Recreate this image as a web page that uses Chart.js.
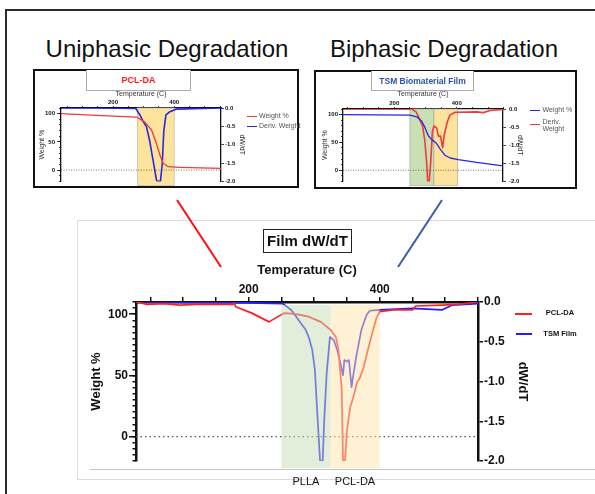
<!DOCTYPE html>
<html>
<head>
<meta charset="utf-8">
<script src="https://cdn.jsdelivr.net/npm/chart.js@4.4.1/dist/chart.umd.min.js"></script>
<style>
  html, body { margin: 0; padding: 0; background: #fff; }
  body { width: 595px; height: 494px; position: relative; overflow: hidden;
         font-family: "Liberation Sans", Arial, Helvetica, sans-serif; color: #111; }
  .abs { position: absolute; box-sizing: border-box; }
  .heading { font-size: 24px; line-height: 24px; text-align: center; white-space: nowrap; width: 300px; }
  .inset { border: 2px solid #111; }
  .tbox { background: #fff; border: 1px solid #aaa; border-top: none; text-align: center; font-weight: bold; white-space: nowrap; }
  .lg { height: 1.3px; }
  .lt { font-size: 7px; line-height: 8px; color: #555; white-space: nowrap; }
  .mlt { font-size: 7.5px; line-height: 10px; font-weight: bold; text-align: center; width: 50px; white-space: nowrap; }
  canvas { position: absolute; }
</style>
</head>
<body>
<div class="abs" style="left:5px;top:9px;width:640px;height:540px;border:2px solid #2b2b2b;"></div>

<div class="abs heading" style="left:17px;top:37px;">Uniphasic Degradation</div>
<div class="abs heading" style="left:294px;top:37px;">Biphasic Degradation</div>

<!-- inset 1 -->
<div class="abs inset" style="left:33px;top:69px;width:266px;height:119px;"></div>
<div class="abs tbox" style="left:86px;top:70px;width:105px;height:21px;line-height:21px;font-size:9px;color:#ff1a1a;">PCL-DA</div>
<canvas id="uni" width="262" height="103" style="left:35px;top:84px;"></canvas>
<div class="abs lg" style="left:247px;top:115.5px;width:10px;background:#f23a3a;"></div>
<div class="abs lt" style="left:259px;top:112px;">Weight %</div>
<div class="abs lg" style="left:247px;top:125.5px;width:10px;background:#2626e6;"></div>
<div class="abs lt" style="left:259px;top:122px;">Deriv. Weight</div>

<!-- inset 2 -->
<div class="abs inset" style="left:314px;top:70px;width:263px;height:119px;"></div>
<div class="abs tbox" style="left:371px;top:71px;width:103px;height:20px;line-height:20px;font-size:8.5px;color:#2a55a5;">TSM Biomaterial Film</div>
<canvas id="bi" width="259" height="104" style="left:316px;top:84px;"></canvas>
<div class="abs lg" style="left:530px;top:109.5px;width:10px;background:#2626e6;"></div>
<div class="abs lt" style="left:542.5px;top:106px;">Weight %</div>
<div class="abs lg" style="left:530px;top:124px;width:10px;background:#f23a3a;"></div>
<div class="abs lt" style="left:542.5px;top:117.5px;line-height:7.5px;">Deriv.<br>Weight</div>

<!-- main chart -->
<div class="abs" style="left:77px;top:220px;width:560px;height:260px;border:1px solid #dcdcdc;"></div>
<div class="abs" style="left:90px;top:469px;width:520px;height:1px;background:#c4c4c4;"></div>
<canvas id="film" width="515" height="272" style="left:80px;top:222px;"></canvas>
<div class="abs" style="left:263px;top:229px;width:89px;height:24px;border:1px solid #222;font-size:15px;line-height:22px;font-weight:bold;text-align:center;white-space:nowrap;">Film dW/dT</div>
<div class="abs" style="left:515px;top:312.5px;width:17px;height:2px;background:#ff1f1f;"></div>
<div class="abs mlt" style="left:535px;top:308px;">PCL-DA</div>
<div class="abs" style="left:516px;top:332.5px;width:16px;height:2px;background:#1f1fff;"></div>
<div class="abs mlt" style="left:535px;top:328.5px;">TSM Film</div>
<div class="abs" style="left:276px;top:475px;width:60px;text-align:center;font-size:11px;line-height:13px;">PLLA</div>
<div class="abs" style="left:325px;top:475px;width:60px;text-align:center;font-size:11px;line-height:13px;">PCL-DA</div>

<svg class="abs" style="left:0;top:0;" width="595" height="494">
  <line x1="177" y1="200" x2="221" y2="267" stroke="#ff1010" stroke-width="2"/>
  <line x1="442" y1="200" x2="398" y2="267" stroke="#3a5fa8" stroke-width="2"/>
</svg>

<script>
// axis ticks
const tempTicks = [50, 100, 150, 200, 250, 300, 350, 400, 450, 500, 550];
const tempLabels = [200, 400];
const weightTicks = [0, 50, 100];
const derivTicks = [0, -0.5, -1.0, -1.5, -2.0];

// main chart: dW/dT of both films
const pclTemp  = [28, 45, 70, 95, 120, 150, 176, 178, 180, 205, 231, 254, 270, 290, 310, 325, 333, 337, 342, 344,
                  347, 350, 355, 360, 365, 370, 375, 382, 390, 395, 400, 420, 450, 455, 495, 520, 550];
const pclDeriv = [0, -0.03, -0.02, -0.04, -0.03, -0.03, -0.03, -0.01, -0.06, -0.14, -0.25, -0.14, -0.15, -0.18, -0.25, -0.35, -0.44, -0.6, -1.1, -2.0,
                  -2.0, -1.61, -1.32, -1.19, -1.02, -0.95, -0.83, -0.6, -0.35, -0.2, -0.12, -0.1, -0.1, -0.05, -0.04, -0.03, 0];
const tsmTemp  = [28, 100, 200, 252, 265, 272, 280, 287, 292, 297, 301, 305, 309, 313, 315, 319, 324, 330, 335, 340,
                  344, 346, 350, 353, 357, 360, 365, 372, 380, 385, 400, 450, 495, 510, 550];
const tsmDeriv = [0, -0.005, -0.01, -0.02, -0.1, -0.18, -0.27, -0.35, -0.45, -0.6, -0.85, -1.44, -2.0, -2.0, -1.53, -0.9, -0.44, -0.48, -0.6, -0.77,
                  -0.92, -0.73, -0.75, -0.73, -1.07, -0.9, -0.65, -0.35, -0.16, -0.11, -0.1, -0.08, -0.1, -0.04, -0.02];
const filmPhases = [250, 325, 400];   // PLLA | PCL-DA

// inset 1: PCL-DA
const uniWeightTemp = [30, 146, 277, 304, 326, 342, 355, 364, 380, 419, 553];
const uniWeight     = [100, 97, 94, 85, 71, 47, 24, 12, 6, 5, 3];
const uniDerivTemp  = [30, 150, 274, 288, 298, 309, 320, 331, 342, 345, 355, 361, 366, 373, 386, 408, 553];
const uniDeriv      = [0, 0, -0.01, -0.19, -0.36, -0.5, -0.9, -1.43, -1.96, -2.0, -2.0, -1.52, -0.63, -0.19, -0.1, -0.03, 0];
const uniPhase = [280, 400];

// inset 2: TSM biomaterial film
const biWeightTemp = [36, 250, 272, 288, 298, 309, 320, 334, 346, 362, 379, 405, 464, 548];
const biWeight     = [100, 99, 96, 88, 77, 62, 55, 49, 39, 27, 22, 19, 14, 8];
const biDerivTemp  = [36, 256, 270, 280, 291, 298, 304, 307, 312, 317, 322, 327, 336, 341, 348, 355, 360, 370, 378, 395, 464, 485, 507, 548];
const biDeriv      = [0, 0, -0.08, -0.26, -0.48, -0.89, -1.52, -2.0, -2.0, -1.43, -0.62, -0.47, -0.53, -0.75, -0.75, -1.07, -0.71, -0.35, -0.17, -0.09, -0.08, -0.1, -0.04, -0.01];
const biPhases = [250, 327, 403];

Chart.defaults.font.family = '"Liberation Sans", Arial, Helvetica, sans-serif';
Chart.defaults.color = '#111';

const pts = (xs, ys) => xs.map((x, i) => ({x, y: ys[i]}));

// shaded temperature windows, drawn over or under the curves
function bands(edges, colors, over, top, bottom, edge) {
  const paint = chart => {
    const {ctx, chartArea: a, scales: {x}} = chart;
    ctx.save();
    for (let i = 0; i < edges.length - 1; i++) {
      const x0 = x.getPixelForValue(edges[i]), x1 = x.getPixelForValue(edges[i + 1]);
      const y0 = a.top + top, h = a.bottom + bottom - y0;
      ctx.fillStyle = colors[i];
      ctx.fillRect(x0, y0, x1 - x0, h);
      if (edge) {
        ctx.strokeStyle = edge; ctx.lineWidth = 0.7;
        ctx.strokeRect(x0, y0, x1 - x0, h);
      }
    }
    ctx.restore();
  };
  return over ? {id: 'bands', afterDatasetsDraw: paint} : {id: 'bands', beforeDatasetsDraw: paint};
}

function thermoChart(id, c, datasets, plugin) {
  const tickFont = {size: c.tick, weight: 'bold'};
  const titleFont = {size: c.title, weight: c.titleWeight};
  const grid = len => ({drawOnChartArea: false, drawTicks: true, tickLength: len, color: '#111', lineWidth: c.tickW});
  const border = {display: true, color: '#111', width: c.axisW};
  datasets.push({data: pts([c.xMin, c.xMax], [0, 0]), yAxisID: 'y', borderColor: '#555',
                 borderWidth: c.dotW, borderDash: c.dash});
  return new Chart(document.getElementById(id), {
    type: 'line',
    data: {datasets},
    plugins: [plugin],
    options: {
      responsive: false, animation: false, devicePixelRatio: 1,
      layout: {autoPadding: false, padding: {left: 0, top: 0, right: c.padRight, bottom: c.padBottom}},
      plugins: {legend: {display: false}, tooltip: {enabled: false}},
      elements: {point: {radius: 0}, line: {tension: 0, borderJoinStyle: 'round'}},
      scales: {
        x: {
          type: 'linear', position: 'top', min: c.xMin, max: c.xMax,
          afterBuildTicks: s => { s.ticks = tempTicks.map(v => ({value: v})); },
          afterFit: s => { s.height = c.top; },
          ticks: {autoSkip: false, maxRotation: 0, padding: c.xPad, font: tickFont, color: '#111',
                  callback: v => tempLabels.includes(v) ? String(v) : ''},
          grid: grid(c.xLen), border,
          title: {display: true, text: 'Temperature (C)', font: titleFont, color: c.titleColor,
                  padding: {top: c.xTitlePad, bottom: 0}}
        },
        y: {
          position: 'left', weight: 1, min: -20, max: 110,
          afterBuildTicks: s => { s.ticks = weightTicks.map(v => ({value: v})); },
          afterFit: s => { s.width = c.left; },
          ticks: {padding: c.yPad, font: tickFont, color: '#111'},
          grid: grid(c.yLen), border,
          title: {display: true, text: 'Weight %', font: titleFont, color: c.titleColor,
                  padding: {top: c.yTitlePad, bottom: 0}}
        },
        yMinor: {
          position: 'left', weight: 0, min: -20, max: 110,
          afterFit: s => { s.width = 0; },
          ticks: {display: false, stepSize: c.minorStep},
          grid: grid(c.minorLen), border: {display: false}
        },
        y2: {
          position: 'right', min: -2, max: 0,
          afterBuildTicks: s => { s.ticks = derivTicks.map(v => ({value: v})); },
          afterFit: s => { s.width = c.rightW; },
          ticks: {padding: c.y2Pad, font: tickFont, color: '#111', callback: v => v.toFixed(1)},
          grid: grid(c.y2Len), border,
          title: {display: true, text: 'dW/dT', font: titleFont, color: c.titleColor,
                  padding: {top: c.y2TitlePad, bottom: 0}}
        }
      }
    }
  });
}

thermoChart('film', {
  xMin: 28, xMax: 550, top: 80, left: 56, rightW: 60, padRight: 57, padBottom: 33,
  tick: 12, title: 13, titleWeight: 'bold', titleColor: '#111',
  xTitlePad: 41, yTitlePad: 9, y2TitlePad: 7.5,
  xLen: 5, xPad: 0, yLen: 7, yPad: 1, minorLen: 3.5, minorStep: 5, y2Len: 5, y2Pad: 1,
  axisW: 2.5, tickW: 1.5, dotW: 1.3, dash: [1.5, 3]
}, [
  {data: pts(pclTemp, pclDeriv), yAxisID: 'y2', borderColor: '#ff1f1f', borderWidth: 1.7},
  {data: pts(tsmTemp, tsmDeriv), yAxisID: 'y2', borderColor: '#1f1fff', borderWidth: 1.7}
], bands(filmPhases, ['rgba(197,219,181,0.5)', 'rgba(253,227,169,0.5)'], true, 3, 7, null));

thermoChart('uni', {
  xMin: 30, xMax: 553, top: 24, left: 26, rightW: 25, padRight: 51, padBottom: 4,
  tick: 6, title: 7, titleWeight: 'normal', titleColor: '#333',
  xTitlePad: 6.1, yTitlePad: 2.5, y2TitlePad: 0.1,
  xLen: 2, xPad: 0, yLen: 4, yPad: 2, minorLen: 2, minorStep: 10, y2Len: 3, y2Pad: 1,
  axisW: 1.3, tickW: 0.8, dotW: 0.8, dash: [1, 1.5]
}, [
  {data: pts(uniWeightTemp, uniWeight), yAxisID: 'y', borderColor: '#f23a3a', borderWidth: 1.3},
  {data: pts(uniDerivTemp, uniDeriv), yAxisID: 'y2', borderColor: '#2626e6', borderWidth: 1.6}
], bands(uniPhase, ['#fde39c'], false, 0, 4, '#b8b8b8'));

thermoChart('bi', {
  xMin: 36, xMax: 548, top: 25, left: 27, rightW: 22, padRight: 50, padBottom: 5,
  tick: 6, title: 7, titleWeight: 'normal', titleColor: '#333',
  xTitlePad: 6.1, yTitlePad: 4.8, y2TitlePad: 0.8,
  xLen: 2, xPad: 0, yLen: 4, yPad: 1, minorLen: 2, minorStep: 10, y2Len: 3, y2Pad: 3,
  axisW: 1.3, tickW: 0.8, dotW: 0.8, dash: [1, 1.5]
}, [
  {data: pts(biWeightTemp, biWeight), yAxisID: 'y', borderColor: '#2626e6', borderWidth: 1.3},
  {data: pts(biDerivTemp, biDeriv), yAxisID: 'y2', borderColor: '#f23a3a', borderWidth: 1.6}
], bands(biPhases, ['#c9e0b4', '#fde39c'], false, 0, 4, '#a8a8a8'));
</script>
</body>
</html>
